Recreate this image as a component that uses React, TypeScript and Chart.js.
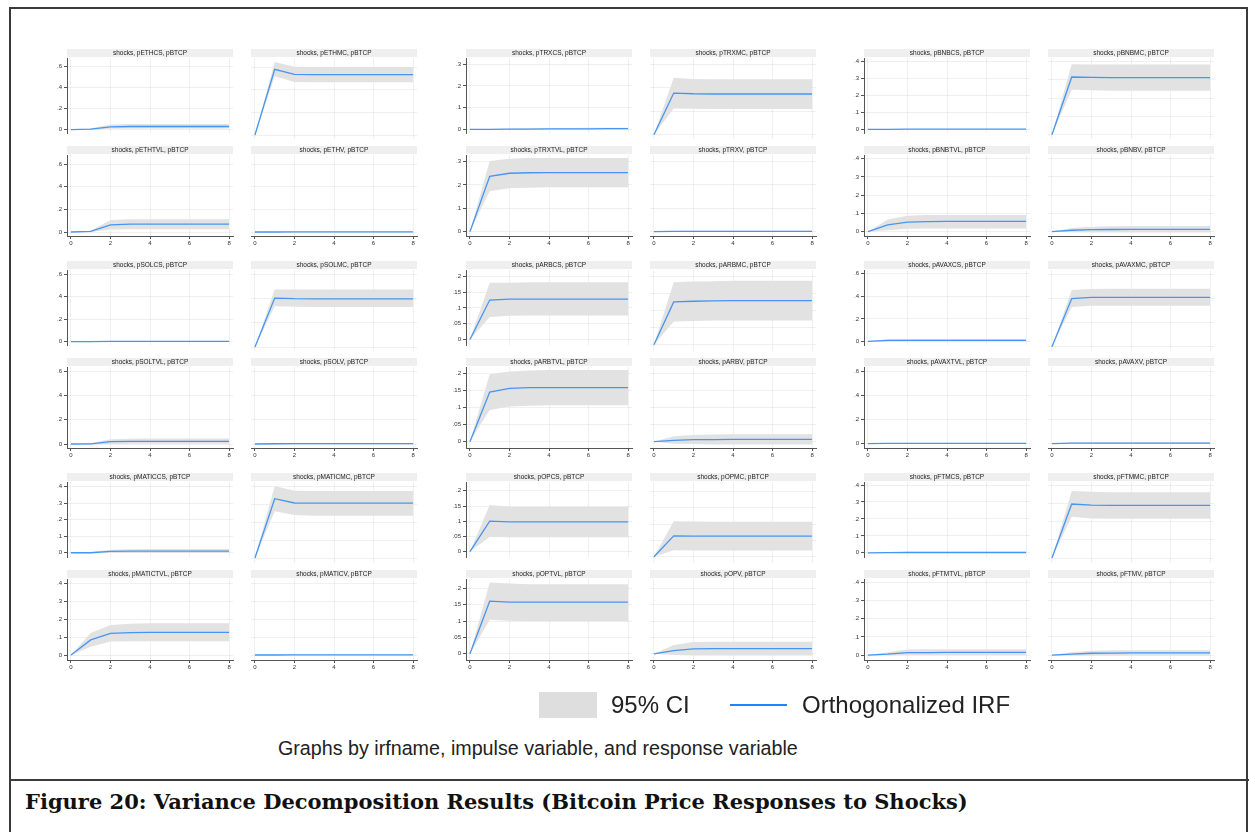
import React, { useEffect, useRef } from "react";
import { Chart, registerables } from "chart.js";

Chart.register(...registerables);

// ---------- data ----------
const STEPS = [0, 1, 2, 3, 4, 5, 6, 7, 8];
const X_TICKS = [0, 2, 4, 6, 8];

const ETHCS_IRF = [0, 0.005, 0.027, 0.03, 0.03, 0.03, 0.03, 0.03, 0.03];
const ETHCS_LO = [0, 0.0, 0.008, 0.01, 0.01, 0.01, 0.01, 0.01, 0.01];
const ETHCS_HI = [0, 0.012, 0.048, 0.053, 0.055, 0.055, 0.055, 0.055, 0.055];
const ETHMC_IRF = [0, 0.58, 0.535, 0.532, 0.532, 0.532, 0.532, 0.532, 0.532];
const ETHMC_LO = [0, 0.518, 0.468, 0.466, 0.466, 0.466, 0.466, 0.466, 0.466];
const ETHMC_HI = [0, 0.644, 0.602, 0.6, 0.6, 0.6, 0.6, 0.6, 0.6];
const ETHTVL_IRF = [0, 0.005, 0.063, 0.07, 0.07, 0.07, 0.07, 0.07, 0.07];
const ETHTVL_LO = [0, 0.0, 0.022, 0.025, 0.025, 0.025, 0.025, 0.025, 0.025];
const ETHTVL_HI = [0, 0.012, 0.105, 0.112, 0.113, 0.113, 0.113, 0.113, 0.113];
const ETHV_IRF = [0, 0.0, 0.001, 0.001, 0.001, 0.001, 0.001, 0.001, 0.001];
const ETHV_LO = [0, 0, 0, 0, 0, 0, 0, 0, 0];
const ETHV_HI = [0, 0.002, 0.003, 0.003, 0.003, 0.003, 0.003, 0.003, 0.003];

const TRXCS_IRF = [0, 0.0, 0.001, 0.001, 0.002, 0.002, 0.002, 0.003, 0.003];
const TRXCS_LO = [0, 0, 0, 0, 0, 0, 0, 0, 0];
const TRXCS_HI = [0, 0.002, 0.004, 0.005, 0.006, 0.006, 0.007, 0.007, 0.007];
const TRXMC_IRF = [0, 0.178, 0.175, 0.174, 0.174, 0.174, 0.174, 0.174, 0.174];
const TRXMC_LO = [0, 0.112, 0.111, 0.11, 0.11, 0.11, 0.11, 0.11, 0.11];
const TRXMC_HI = [0, 0.244, 0.238, 0.237, 0.237, 0.237, 0.237, 0.237, 0.237];
const TRXTVL_IRF = [0, 0.237, 0.25, 0.252, 0.253, 0.253, 0.253, 0.253, 0.253];
const TRXTVL_LO = [0, 0.173, 0.186, 0.188, 0.19, 0.19, 0.19, 0.19, 0.19];
const TRXTVL_HI = [0, 0.302, 0.312, 0.315, 0.315, 0.315, 0.315, 0.315, 0.315];
const TRXV_IRF = [0, 0.001, 0.001, 0.001, 0.001, 0.001, 0.001, 0.001, 0.001];
const TRXV_LO = [0, 0, 0, 0, 0, 0, 0, 0, 0];
const TRXV_HI = [0, 0.003, 0.004, 0.004, 0.004, 0.004, 0.004, 0.004, 0.004];

const BNBCS_IRF = [0, 0.0, 0.001, 0.001, 0.001, 0.001, 0.001, 0.001, 0.001];
const BNBCS_LO = [0, 0, 0, 0, 0, 0, 0, 0, 0];
const BNBCS_HI = [0, 0.002, 0.003, 0.003, 0.003, 0.003, 0.003, 0.003, 0.003];
const BNBMC_IRF = [0, 0.316, 0.314, 0.313, 0.313, 0.313, 0.313, 0.313, 0.313];
const BNBMC_LO = [0, 0.246, 0.243, 0.241, 0.241, 0.241, 0.241, 0.241, 0.241];
const BNBMC_HI = [0, 0.386, 0.385, 0.385, 0.385, 0.385, 0.385, 0.385, 0.385];
const BNBTVL_IRF = [0, 0.037, 0.052, 0.055, 0.056, 0.056, 0.056, 0.056, 0.056];
const BNBTVL_LO = [0, 0.008, 0.016, 0.018, 0.018, 0.018, 0.018, 0.018, 0.018];
const BNBTVL_HI = [0, 0.067, 0.087, 0.091, 0.092, 0.092, 0.092, 0.092, 0.092];
const BNBV_IRF = [0, 0.008, 0.011, 0.012, 0.013, 0.013, 0.013, 0.013, 0.013];
const BNBV_LO = [0, -0.003, -0.004, -0.005, -0.005, -0.005, -0.005, -0.005, -0.005];
const BNBV_HI = [0, 0.02, 0.027, 0.03, 0.031, 0.031, 0.031, 0.031, 0.031];

const SOLCS_IRF = [0, 0.001, 0.002, 0.003, 0.003, 0.003, 0.003, 0.003, 0.003];
const SOLCS_LO = [0, 0, 0, 0, 0, 0, 0, 0, 0];
const SOLCS_HI = [0, 0.004, 0.006, 0.007, 0.007, 0.007, 0.007, 0.007, 0.007];
const SOLMC_IRF = [0, 0.404, 0.399, 0.398, 0.397, 0.397, 0.397, 0.397, 0.397];
const SOLMC_LO = [0, 0.337, 0.332, 0.331, 0.33, 0.33, 0.33, 0.33, 0.33];
const SOLMC_HI = [0, 0.475, 0.474, 0.474, 0.474, 0.474, 0.474, 0.474, 0.474];
const SOLTVL_IRF = [0, 0.001, 0.02, 0.022, 0.022, 0.022, 0.022, 0.022, 0.022];
const SOLTVL_LO = [0, -0.003, 0.001, 0.002, 0.002, 0.002, 0.002, 0.002, 0.002];
const SOLTVL_HI = [0, 0.006, 0.04, 0.044, 0.045, 0.045, 0.045, 0.045, 0.045];
const SOLV_IRF = [0, 0.002, 0.003, 0.003, 0.003, 0.003, 0.003, 0.003, 0.003];
const SOLV_LO = [0, 0, 0, 0, 0, 0, 0, 0, 0];
const SOLV_HI = [0, 0.005, 0.007, 0.007, 0.007, 0.007, 0.007, 0.007, 0.007];

const ARBCS_IRF = [0, 0.125, 0.128, 0.128, 0.128, 0.128, 0.128, 0.128, 0.128];
const ARBCS_LO = [0, 0.071, 0.075, 0.076, 0.076, 0.076, 0.076, 0.076, 0.076];
const ARBCS_HI = [0, 0.18, 0.18, 0.181, 0.181, 0.181, 0.181, 0.181, 0.181];
const ARBMC_IRF = [0, 0.126, 0.128, 0.129, 0.13, 0.13, 0.13, 0.13, 0.13];
const ARBMC_LO = [0, 0.068, 0.07, 0.071, 0.071, 0.071, 0.071, 0.071, 0.071];
const ARBMC_HI = [0, 0.184, 0.186, 0.187, 0.188, 0.188, 0.188, 0.188, 0.188];
const ARBTVL_IRF = [0, 0.146, 0.157, 0.159, 0.159, 0.159, 0.159, 0.159, 0.159];
const ARBTVL_LO = [0, 0.093, 0.104, 0.106, 0.107, 0.107, 0.107, 0.107, 0.107];
const ARBTVL_HI = [0, 0.199, 0.207, 0.21, 0.211, 0.211, 0.211, 0.211, 0.211];
const ARBV_IRF = [0, 0.004, 0.006, 0.006, 0.007, 0.007, 0.007, 0.007, 0.007];
const ARBV_LO = [0, -0.006, -0.007, -0.008, -0.008, -0.008, -0.008, -0.008, -0.008];
const ARBV_HI = [0, 0.016, 0.02, 0.021, 0.022, 0.022, 0.022, 0.022, 0.022];

const AVAXCS_IRF = [0, 0.009, 0.01, 0.01, 0.01, 0.01, 0.01, 0.01, 0.01];
const AVAXCS_LO = [0, 0, 0, 0, 0, 0, 0, 0, 0];
const AVAXCS_HI = [0, 0.019, 0.022, 0.022, 0.022, 0.022, 0.022, 0.022, 0.022];
const AVAXMC_IRF = [0, 0.398, 0.408, 0.408, 0.408, 0.408, 0.408, 0.408, 0.408];
const AVAXMC_LO = [0, 0.328, 0.338, 0.338, 0.338, 0.338, 0.338, 0.338, 0.338];
const AVAXMC_HI = [0, 0.468, 0.477, 0.478, 0.478, 0.478, 0.478, 0.478, 0.478];
const AVAXTVL_IRF = [0, 0.002, 0.002, 0.002, 0.002, 0.002, 0.002, 0.002, 0.002];
const AVAXTVL_LO = [0, 0, 0, 0, 0, 0, 0, 0, 0];
const AVAXTVL_HI = [0, 0.004, 0.005, 0.005, 0.005, 0.005, 0.005, 0.005, 0.005];
const AVAXV_IRF = [0, 0.004, 0.005, 0.005, 0.005, 0.005, 0.005, 0.005, 0.005];
const AVAXV_LO = [0, 0, 0, 0, 0, 0, 0, 0, 0];
const AVAXV_HI = [0, 0.009, 0.012, 0.012, 0.012, 0.012, 0.012, 0.012, 0.012];

const MATICCS_IRF = [0, 0.0, 0.008, 0.01, 0.01, 0.01, 0.01, 0.01, 0.01];
const MATICCS_LO = [0, -0.003, -0.002, -0.002, -0.002, -0.002, -0.002, -0.002, -0.002];
const MATICCS_HI = [0, 0.004, 0.018, 0.021, 0.022, 0.022, 0.022, 0.022, 0.022];
const MATICMC_IRF = [0, 0.333, 0.309, 0.308, 0.308, 0.308, 0.308, 0.308, 0.308];
const MATICMC_LO = [0, 0.262, 0.241, 0.238, 0.238, 0.238, 0.238, 0.238, 0.238];
const MATICMC_HI = [0, 0.404, 0.378, 0.377, 0.377, 0.377, 0.377, 0.377, 0.377];
const MATICTVL_IRF = [0, 0.085, 0.122, 0.126, 0.127, 0.127, 0.127, 0.127, 0.127];
const MATICTVL_LO = [0, 0.047, 0.076, 0.077, 0.077, 0.077, 0.077, 0.077, 0.077];
const MATICTVL_HI = [0, 0.124, 0.168, 0.175, 0.178, 0.178, 0.178, 0.178, 0.178];
const MATICV_IRF = [0, 0.0, 0.001, 0.001, 0.001, 0.001, 0.001, 0.001, 0.001];
const MATICV_LO = [0, 0, 0, 0, 0, 0, 0, 0, 0];
const MATICV_HI = [0, 0.002, 0.003, 0.003, 0.003, 0.003, 0.003, 0.003, 0.003];

const OPCS_IRF = [0, 0.1, 0.098, 0.098, 0.098, 0.098, 0.098, 0.098, 0.098];
const OPCS_LO = [0, 0.048, 0.047, 0.047, 0.047, 0.047, 0.047, 0.047, 0.047];
const OPCS_HI = [0, 0.153, 0.148, 0.148, 0.148, 0.148, 0.148, 0.148, 0.148];
const OPMC_IRF = [0, 0.064, 0.063, 0.063, 0.063, 0.063, 0.063, 0.063, 0.063];
const OPMC_LO = [0, 0.02, 0.019, 0.019, 0.019, 0.019, 0.019, 0.019, 0.019];
const OPMC_HI = [0, 0.109, 0.108, 0.107, 0.107, 0.107, 0.107, 0.107, 0.107];
const OPTVL_IRF = [0, 0.161, 0.158, 0.158, 0.158, 0.158, 0.158, 0.158, 0.158];
const OPTVL_LO = [0, 0.104, 0.101, 0.1, 0.1, 0.1, 0.1, 0.1, 0.1];
const OPTVL_HI = [0, 0.218, 0.215, 0.213, 0.213, 0.213, 0.213, 0.213, 0.213];
const OPV_IRF = [0, 0.01, 0.015, 0.016, 0.016, 0.016, 0.016, 0.016, 0.016];
const OPV_LO = [0, -0.004, -0.005, -0.005, -0.005, -0.005, -0.005, -0.005, -0.005];
const OPV_HI = [0, 0.027, 0.036, 0.037, 0.037, 0.037, 0.037, 0.037, 0.037];

const FTMCS_IRF = [0, 0.001, 0.002, 0.002, 0.002, 0.002, 0.002, 0.002, 0.002];
const FTMCS_LO = [0, 0, 0, 0, 0, 0, 0, 0, 0];
const FTMCS_HI = [0, 0.004, 0.006, 0.006, 0.006, 0.006, 0.006, 0.006, 0.006];
const FTMMC_IRF = [0, 0.297, 0.291, 0.29, 0.29, 0.29, 0.29, 0.29, 0.29];
const FTMMC_LO = [0, 0.227, 0.218, 0.216, 0.216, 0.216, 0.216, 0.216, 0.216];
const FTMMC_HI = [0, 0.369, 0.364, 0.362, 0.362, 0.362, 0.362, 0.362, 0.362];
const FTMTVL_IRF = [0, 0.005, 0.013, 0.014, 0.015, 0.015, 0.015, 0.015, 0.015];
const FTMTVL_LO = [0, 0, 0, 0, 0, 0, 0, 0, 0];
const FTMTVL_HI = [0, 0.015, 0.03, 0.032, 0.032, 0.032, 0.032, 0.032, 0.032];
const FTMV_IRF = [0, 0.005, 0.01, 0.011, 0.012, 0.012, 0.012, 0.012, 0.012];
const FTMV_LO = [0, -0.002, -0.002, -0.002, -0.002, -0.002, -0.002, -0.002, -0.002];
const FTMV_HI = [0, 0.015, 0.024, 0.026, 0.027, 0.027, 0.027, 0.027, 0.027];

// y-axis tick values and ranges per asset group
const TICKS_02 = [0, 0.2, 0.4, 0.6];
const TICKS_TRX = [0, 0.1, 0.2, 0.3];
const TICKS_01 = [0, 0.1, 0.2, 0.3, 0.4];
const TICKS_005 = [0, 0.05, 0.1, 0.15, 0.2];

const GROUP_NAMES = ["ETH", "TRX", "BNB", "SOL", "ARB", "AVAX", "MATIC", "OP", "FTM"];
const GROUP_TICKS = [TICKS_02, TICKS_TRX, TICKS_01, TICKS_02, TICKS_005, TICKS_02, TICKS_01, TICKS_005, TICKS_01];
const GROUP_YMIN = [-0.0353, -0.0185, -0.0236, -0.033, -0.0186, -0.0355, -0.028, -0.019, -0.027];
const GROUP_YMAX = [0.6796, 0.328, 0.42, 0.636, 0.22, 0.634, 0.427, 0.229, 0.418];

const SHOCK_TYPES = ["CS", "MC", "TVL", "V"];
const SERIES: Record<string, number[][]> = {
  ETHCS: [ETHCS_IRF, ETHCS_LO, ETHCS_HI], ETHMC: [ETHMC_IRF, ETHMC_LO, ETHMC_HI],
  ETHTVL: [ETHTVL_IRF, ETHTVL_LO, ETHTVL_HI], ETHV: [ETHV_IRF, ETHV_LO, ETHV_HI],
  TRXCS: [TRXCS_IRF, TRXCS_LO, TRXCS_HI], TRXMC: [TRXMC_IRF, TRXMC_LO, TRXMC_HI],
  TRXTVL: [TRXTVL_IRF, TRXTVL_LO, TRXTVL_HI], TRXV: [TRXV_IRF, TRXV_LO, TRXV_HI],
  BNBCS: [BNBCS_IRF, BNBCS_LO, BNBCS_HI], BNBMC: [BNBMC_IRF, BNBMC_LO, BNBMC_HI],
  BNBTVL: [BNBTVL_IRF, BNBTVL_LO, BNBTVL_HI], BNBV: [BNBV_IRF, BNBV_LO, BNBV_HI],
  SOLCS: [SOLCS_IRF, SOLCS_LO, SOLCS_HI], SOLMC: [SOLMC_IRF, SOLMC_LO, SOLMC_HI],
  SOLTVL: [SOLTVL_IRF, SOLTVL_LO, SOLTVL_HI], SOLV: [SOLV_IRF, SOLV_LO, SOLV_HI],
  ARBCS: [ARBCS_IRF, ARBCS_LO, ARBCS_HI], ARBMC: [ARBMC_IRF, ARBMC_LO, ARBMC_HI],
  ARBTVL: [ARBTVL_IRF, ARBTVL_LO, ARBTVL_HI], ARBV: [ARBV_IRF, ARBV_LO, ARBV_HI],
  AVAXCS: [AVAXCS_IRF, AVAXCS_LO, AVAXCS_HI], AVAXMC: [AVAXMC_IRF, AVAXMC_LO, AVAXMC_HI],
  AVAXTVL: [AVAXTVL_IRF, AVAXTVL_LO, AVAXTVL_HI], AVAXV: [AVAXV_IRF, AVAXV_LO, AVAXV_HI],
  MATICCS: [MATICCS_IRF, MATICCS_LO, MATICCS_HI], MATICMC: [MATICMC_IRF, MATICMC_LO, MATICMC_HI],
  MATICTVL: [MATICTVL_IRF, MATICTVL_LO, MATICTVL_HI], MATICV: [MATICV_IRF, MATICV_LO, MATICV_HI],
  OPCS: [OPCS_IRF, OPCS_LO, OPCS_HI], OPMC: [OPMC_IRF, OPMC_LO, OPMC_HI],
  OPTVL: [OPTVL_IRF, OPTVL_LO, OPTVL_HI], OPV: [OPV_IRF, OPV_LO, OPV_HI],
  FTMCS: [FTMCS_IRF, FTMCS_LO, FTMCS_HI], FTMMC: [FTMMC_IRF, FTMMC_LO, FTMMC_HI],
  FTMTVL: [FTMTVL_IRF, FTMTVL_LO, FTMTVL_HI], FTMV: [FTMV_IRF, FTMV_LO, FTMV_HI],
};

// ---------- styling / layout ----------
const BLUE = "#1a85ff";
const PANEL_BLUE = "#4596f2";
const CI_GREY = "#e2e2e2";
const STRIP_GREY = "#efefef";
const GRID = "rgba(0,0,0,0.06)";
const AXIS = "#555555";
const SANS = "'Liberation Sans', Arial, sans-serif";

const COL_LEFTS = [67, 251, 466, 650, 864, 1048];
const ROW_TOPS = [49, 146, 261, 358, 473, 570];
const PLOT_W = 166;
const PLOT_H = 81;
const STRIP_H = 9;
const YAXIS_W = 22;
const XAXIS_H = 14;

const fmtTick = (v: number) => (v === 0 ? "0" : String(Number(v.toFixed(3))).replace(/^0\./, "."));

const stripPlugin = {
  id: "strip",
  beforeDraw(chart: any) {
    const { ctx, chartArea } = chart;
    const title = chart.options.plugins.strip.title;
    ctx.save();
    ctx.fillStyle = STRIP_GREY;
    ctx.fillRect(chartArea.left, 0, chartArea.right - chartArea.left, STRIP_H - 1);
    ctx.fillStyle = "#222";
    ctx.font = `6.5px ${SANS}`;
    ctx.textAlign = "center";
    ctx.textBaseline = "middle";
    ctx.fillText(title, (chartArea.left + chartArea.right) / 2, (STRIP_H - 1) / 2 + 0.5);
    ctx.restore();
  },
};

type PanelProps = {
  title: string;
  series: number[][];
  ticks: number[];
  yMin: number;
  yMax: number;
  showY: boolean;
  showX: boolean;
  left: number;
  top: number;
};

function Panel({ title, series, ticks, yMin, yMax, showY, showX, left, top }: PanelProps) {
  const ref = useRef<HTMLCanvasElement | null>(null);
  const width = YAXIS_W + PLOT_W + 5;
  const height = STRIP_H + PLOT_H + (showX ? XAXIS_H : 0);
  useEffect(() => {
    if (!ref.current) return;
    const [irf, lo, hi] = series;
    const pts = (arr: number[]) => STEPS.map((s, i) => ({ x: s, y: arr[i] }));
    const chart = new Chart(ref.current, {
      type: "line",
      data: {
        datasets: [
          { data: pts(irf), borderWidth: 1.3, borderColor: PANEL_BLUE, pointRadius: 0, fill: false, tension: 0 },
          { data: pts(hi), borderWidth: 0, borderColor: "rgba(0,0,0,0)", pointRadius: 0, fill: "+1", backgroundColor: CI_GREY, tension: 0 },
          { data: pts(lo), borderWidth: 0, borderColor: "rgba(0,0,0,0)", pointRadius: 0, fill: false, tension: 0 },
        ],
      },
      options: {
        animation: false,
        responsive: false,
        maintainAspectRatio: false,
        events: [],
        layout: { padding: { top: STRIP_H, right: 5, left: 0, bottom: 0 } },
        plugins: {
          legend: { display: false },
          tooltip: { enabled: false },
          strip: { title },
        } as any,
        scales: {
          x: {
            type: "linear",
            min: -0.2,
            max: 8.2,
            afterBuildTicks: (s: any) => {
              s.ticks = X_TICKS.map((v) => ({ value: v }));
            },
            afterFit: (s: any) => {
              s.height = showX ? XAXIS_H : 0;
            },
            ticks: {
              display: showX,
              font: { size: 6, family: SANS },
              color: "#333",
              padding: 1,
              maxRotation: 0,
              autoSkip: false,
              callback: (v: any) => String(v),
            },
            grid: { color: GRID, lineWidth: 1, drawTicks: showX, tickLength: 3, tickColor: AXIS },
            border: { display: showX, color: AXIS, width: 1 },
          },
          y: {
            type: "linear",
            min: yMin,
            max: yMax,
            afterBuildTicks: (s: any) => {
              s.ticks = ticks.map((v) => ({ value: v }));
            },
            afterFit: (s: any) => {
              s.width = YAXIS_W;
            },
            ticks: {
              display: showY,
              font: { size: 6, family: SANS },
              color: "#333",
              padding: 2,
              autoSkip: false,
              callback: (v: any) => fmtTick(Number(v)),
            },
            grid: { color: GRID, lineWidth: 1, drawTicks: showY, tickLength: 3, tickColor: AXIS },
            border: { display: showY, color: AXIS, width: 1 },
          },
        },
      } as any,
      plugins: [stripPlugin],
    });
    return () => chart.destroy();
  }, []);
  return (
    <canvas
      ref={ref}
      width={width}
      height={height}
      style={{ position: "absolute", left: left - YAXIS_W, top, width, height }}
    />
  );
}

export default function App() {
  const panels: React.ReactNode[] = [];
  GROUP_NAMES.forEach((name, g) => {
    const rowGroup = Math.floor(g / 3);
    const colGroup = g % 3;
    SHOCK_TYPES.forEach((t, k) => {
      const r = Math.floor(k / 2);
      const c = k % 2;
      const key = name + t;
      panels.push(
        <Panel
          key={key}
          title={`shocks, p${key}, pBTCP`}
          series={SERIES[key]}
          ticks={GROUP_TICKS[g]}
          yMin={GROUP_YMIN[g]}
          yMax={GROUP_YMAX[g]}
          showY={c === 0}
          showX={r === 1}
          left={COL_LEFTS[colGroup * 2 + c]}
          top={ROW_TOPS[rowGroup * 2 + r]}
        />
      );
    });
  });

  const abs = (style: React.CSSProperties): React.CSSProperties => ({ position: "absolute", ...style });

  return (
    <div style={abs({ left: 0, top: 0, width: 1249, height: 832, background: "#fff", overflow: "hidden" })}>
      {/* frame */}
      <div style={abs({ left: 9, top: 7, width: 1239, height: 2, background: "#3a3a3a" })} />
      <div style={abs({ left: 9, top: 7, width: 2, height: 825, background: "#3a3a3a" })} />
      <div style={abs({ left: 1246, top: 7, width: 2, height: 825, background: "#3a3a3a" })} />
      <div style={abs({ left: 9, top: 779, width: 1240, height: 2, background: "#3a3a3a" })} />

      {panels}

      {/* legend */}
      <div style={abs({ left: 539, top: 692, width: 58, height: 26, background: "#dedede" })} />
      <div style={abs({ left: 611, top: 690, height: 30, lineHeight: "30px", fontFamily: SANS, fontSize: 24, color: "#222", whiteSpace: "nowrap" })}>95% CI</div>
      <div style={abs({ left: 730, top: 704, width: 57, height: 2, background: BLUE })} />
      <div style={abs({ left: 802, top: 690, height: 30, lineHeight: "30px", fontFamily: SANS, fontSize: 24, color: "#222", whiteSpace: "nowrap" })}>Orthogonalized IRF</div>

      {/* note */}
      <div style={abs({ left: 278, top: 736, height: 24, lineHeight: "24px", fontFamily: SANS, fontSize: 19.7, color: "#222", whiteSpace: "nowrap" })}>
        Graphs by irfname, impulse variable, and response variable
      </div>

      {/* caption */}
      <div style={abs({ left: 25, top: 787, height: 30, lineHeight: "30px", fontFamily: "'DejaVu Serif', serif", fontWeight: 700, fontSize: 21, color: "#111", whiteSpace: "nowrap" })}>
        Figure 20: Variance Decomposition Results (Bitcoin Price Responses to Shocks)
      </div>
    </div>
  );
}
